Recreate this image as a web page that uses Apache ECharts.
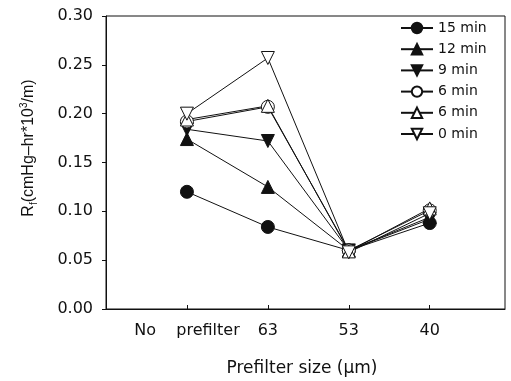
<!DOCTYPE html>
<html>
<head>
<meta charset="utf-8">
<script src="https://cdn.jsdelivr.net/npm/echarts@6/dist/echarts.min.js"></script>
<style>html,body{margin:0;padding:0;background:#fff;}#c{width:511px;height:381px;}</style>
</head>
<body>
<div id="c"></div>
<script>
var xPositions = [1, 2, 3, 4];
var xTickLabels = ['No    prefilter', '63', '53', '40'];
var seriesNames = ['15 min', '12 min', '9 min', '6 min', '6 min ', '0 min'];
var s15 = [0.120, 0.084, 0.060, 0.088];
var s12 = [0.174, 0.125, 0.060, 0.094];
var s9 = [0.184, 0.172, 0.060, 0.092];
var s6a = [0.192, 0.207, 0.060, 0.101];
var s6b = [0.194, 0.208, 0.059, 0.103];
var s0 = [0.200, 0.257, 0.058, 0.098];

var FONT = 'DejaVu Sans';
var INK = '#111';
function pairs(arr) { return xPositions.map(function (x, i) { return [x, arr[i]]; }); }
function mk(name, data, symbol, filled, rotate) {
  return {
    name: name, type: 'line', data: pairs(data), symbol: symbol, symbolSize: 13,
    symbolRotate: rotate || 0,
    lineStyle: { color: INK, width: 1 },
    itemStyle: { color: filled ? INK : '#fff', borderColor: INK, borderWidth: 1 },
    emphasis: { disabled: true }, animation: false, z: filled ? 3 : 4
  };
}
var chart = echarts.init(document.getElementById('c'), null, { renderer: 'canvas' });
chart.setOption({
  animation: false,
  grid: { left: 106, right: 6, top: 16, bottom: 72, show: true, borderColor: INK, borderWidth: 1, backgroundColor: 'transparent' },
  legend: {
    orient: 'vertical', left: 395, top: 16, itemWidth: 32, itemHeight: 13, itemGap: 7.2,
    textStyle: { fontFamily: FONT, fontSize: 14, color: INK, lineHeight: 13, padding: [0, 0, 0, 0] },
    data: seriesNames, selectedMode: false
  },
  xAxis: {
    type: 'value', min: 0, max: 4.93, interval: 1,
    axisLine: { lineStyle: { color: INK } },
    axisTick: { inside: true, length: 4, lineStyle: { color: INK } },
    splitLine: { show: false },
    axisLabel: {
      fontFamily: FONT, fontSize: 16, color: INK, margin: 14, showMaxLabel: false,
      formatter: function (v) { var i = xPositions.indexOf(v); return i >= 0 ? xTickLabels[i] : ''; }
    }
  },
  yAxis: {
    type: 'value', min: 0, max: 0.30, interval: 0.05,
    axisLine: { show: true, lineStyle: { color: INK } },
    axisTick: { show: true, length: 4, lineStyle: { color: INK } },
    splitLine: { show: false },
    axisLabel: { fontFamily: FONT, fontSize: 16, color: INK, margin: 13, formatter: function (v) { return v.toFixed(2); } }
  },
  graphic: [
    { type: 'text', x: 302, y: 369, style: { text: 'Prefilter size (\u03bcm)', fontFamily: FONT, fontSize: 17, fill: INK, align: 'center', verticalAlign: 'middle' } },
    { type: 'text', x: 29, y: 148, rotation: Math.PI / 2,
      style: {
        text: '{n|R}{s|f}{n|(cmHg\u2013hr*10}{p|3}{n|/m)}', align: 'center', verticalAlign: 'middle',
        rich: {
          n: { fontFamily: 'Liberation Sans', fontSize: 16, fill: INK },
          s: { fontFamily: 'Liberation Sans', fontSize: 10, fill: INK, padding: [10, 0, 0, 0] },
          p: { fontFamily: 'Liberation Sans', fontSize: 10, fill: INK, padding: [0, 0, 10, 0] }
        }
      }
    }
  ],
  series: [
    mk(seriesNames[0], s15, 'circle', true),
    mk(seriesNames[1], s12, 'triangle', true),
    mk(seriesNames[2], s9, 'triangle', true, 180),
    mk(seriesNames[3], s6a, 'circle', false),
    mk(seriesNames[4], s6b, 'triangle', false),
    mk(seriesNames[5], s0, 'triangle', false, 180)
  ]
});
</script>
</body>
</html>
